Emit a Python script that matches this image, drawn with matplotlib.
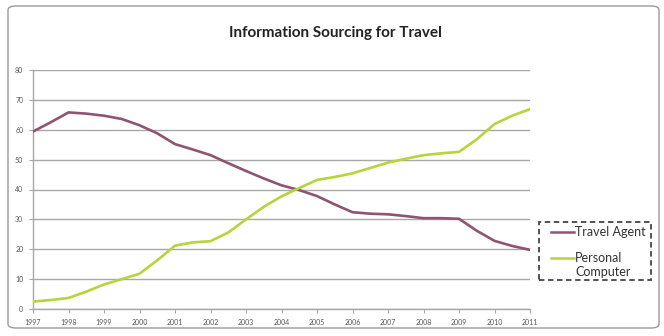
import matplotlib
matplotlib.use("Agg")
import matplotlib.pyplot as plt
from matplotlib.patches import FancyBboxPatch
from matplotlib.lines import Line2D

# Half-yearly readings, 1997 to 2011
years = [1997 + 0.5 * i for i in range(29)]
travel_agent = [59.4, 62.5, 65.8, 65.4, 64.7, 63.6, 61.5, 58.8, 55.2, 53.4,
                51.5, 48.8, 46.2, 43.7, 41.4, 39.8, 37.8, 35.0, 32.4, 31.9,
                31.7, 31.1, 30.4, 30.4, 30.2, 26.2, 22.8, 21.1, 19.8]
personal_computer = [2.5, 3.0, 3.7, 5.8, 8.2, 10.0, 11.8, 16.3, 21.2, 22.3,
                     22.7, 25.6, 30.0, 34.2, 37.7, 40.5, 43.2, 44.2, 45.4, 47.2,
                     49.0, 50.3, 51.5, 52.1, 52.6, 56.8, 61.9, 64.7, 66.9]
tick_years = list(range(1997, 2012))
y_ticks = list(range(0, 81, 10))

ta_color = "#8E5472"
pc_color = "#B6D43C"
font = "Lato"

W, H = 664, 336
fig = plt.figure(figsize=(W / 100, H / 100), dpi=100)
fig.patch.set_facecolor("white")

# rounded chart border, kept behind the plot
border = FancyBboxPatch((8 / W, 8 / H), 651 / W, 322 / H,
                        boxstyle="round,pad=0,rounding_size=0.012",
                        transform=fig.transFigure, facecolor="white",
                        edgecolor="#9a9a9a", linewidth=1.0, zorder=-5)
fig.patches.append(border)

left, right, top, bottom = 33, 530, 70, 309
ax = fig.add_axes([left / W, 1 - bottom / H, (right - left) / W, (bottom - top) / H])
ax.set_facecolor("none")
ax.set_zorder(1)

ax.plot(years, travel_agent, color=ta_color, lw=1.9, solid_capstyle="round",
        solid_joinstyle="round", zorder=3)
ax.plot(years, personal_computer, color=pc_color, lw=1.9, solid_capstyle="round",
        solid_joinstyle="round", zorder=3)

ax.set_xlim(1997, 2011)
ax.set_ylim(0, 80)
ax.set_yticks(y_ticks)
ax.set_xticks(tick_years)
ax.set_xticklabels([str(y) for y in tick_years])
ax.grid(axis="y", color="#a8a8a8", lw=1.0, zorder=0)
ax.set_axisbelow(True)
for s in ["top", "right"]:
    ax.spines[s].set_visible(False)
for s in ["left", "bottom"]:
    ax.spines[s].set_color("#a8a8a8")
    ax.spines[s].set_linewidth(1.0)
ax.tick_params(axis="both", colors="#a8a8a8", length=3, width=0.8,
               labelsize=5, labelcolor="#555555")
ax.tick_params(axis="x", direction="out", pad=4)
ax.tick_params(axis="y", direction="out", length=3, pad=4)
for lbl in ax.get_xticklabels() + ax.get_yticklabels():
    lbl.set_family(font)

fig.text(335 / W, 1 - 33 / H, "Information Sourcing for Travel", ha="center",
         va="center", fontsize=11, fontweight="bold", family=font, color="#222222")

# legend box
lx0, ly0, lx1, ly1 = 539, 222, 651, 280
box = FancyBboxPatch((lx0 / W, 1 - ly1 / H), (lx1 - lx0) / W, (ly1 - ly0) / H,
                     boxstyle="square,pad=0", transform=fig.transFigure,
                     facecolor="white", edgecolor="#444444", linewidth=1.3,
                     linestyle=(0, (3, 2)), zorder=5)
fig.patches.append(box)
for yy, col in [(232, ta_color), (258, pc_color)]:
    fig.lines.append(Line2D([551 / W, 574 / W], [1 - yy / H, 1 - yy / H],
                            transform=fig.transFigure, color=col, lw=1.8, zorder=6))
for yy, txt in [(232, "Travel Agent"), (258, "Personal"), (272, "Computer")]:
    fig.text(575 / W, 1 - yy / H, txt, ha="left", va="center", fontsize=9,
             family=font, color="#333333", zorder=6)

fig.savefig("out.png", dpi=100)
